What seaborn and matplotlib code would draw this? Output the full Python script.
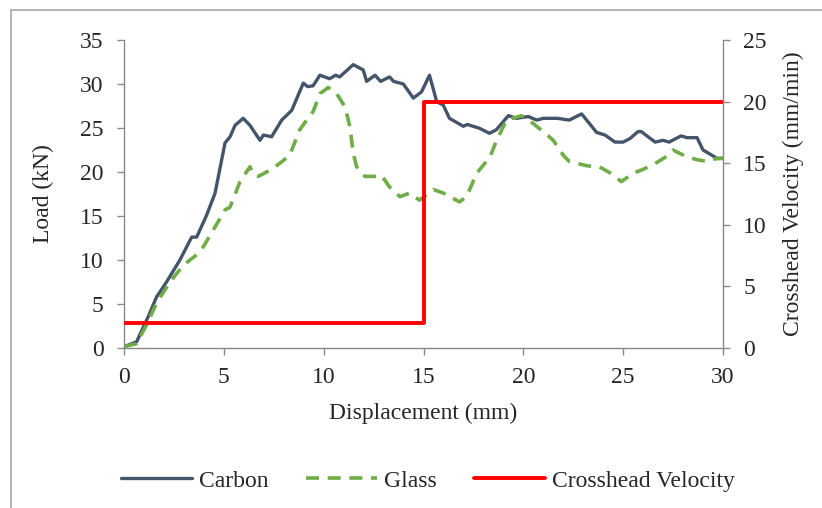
import pandas as pd
import matplotlib
matplotlib.use("Agg")
import matplotlib.pyplot as plt
from matplotlib.lines import Line2D
import seaborn as sns

# Load vs displacement readings
carbon_x = [0, 0.63, 1.22, 1.63, 2.13, 2.8, 3.39, 3.64, 4.14, 4.56, 5.06, 5.31, 5.56, 5.97, 6.31,
            6.81, 6.98, 7.39, 7.9, 8.4, 8.98, 9.2, 9.47, 9.81, 10.3, 10.6, 10.8, 11.48, 11.98, 12.15,
            12.57, 12.85, 13.3, 13.5, 13.99, 14.49, 14.9, 15.3, 15.66, 15.99, 16.3, 16.99, 17.2, 17.8,
            18.3, 18.65, 19.25, 19.66, 20.25, 20.67, 21.0, 21.7, 22.3, 22.92, 23.67, 24.09, 24.59,
            25.0, 25.34, 25.75, 25.9, 26.6, 27.0, 27.3, 27.9, 28.2, 28.7, 29.0, 29.7, 30.0]
carbon_load = [0.15, 0.7, 3.6, 5.8, 7.5, 10, 12.6, 12.6, 15.1, 17.6, 23.3, 24, 25.3, 26.1, 25.3,
               23.6, 24.2, 24.0, 25.9, 27.0, 30.1, 29.7, 29.8, 31.0, 30.6, 31.0, 30.8, 32.2, 31.6, 30.3,
               31.0, 30.3, 30.8, 30.3, 30.0, 28.4, 29.1, 31.0, 28.0, 27.6, 26.1, 25.2, 25.4, 24.97,
               24.4, 24.8, 26.4, 26.1, 26.3, 25.9, 26.1, 26.1, 25.9, 26.6, 24.5, 24.2, 23.4,
               23.4, 23.8, 24.6, 24.6, 23.4, 23.6, 23.4, 24.1, 23.9, 23.9, 22.5, 21.55, 21.55]

glass_x = [0, 0.63, 1.17, 1.63, 2.3, 2.97, 3.64, 3.97, 4.47, 5.06, 5.31, 5.81, 6.31, 6.48, 6.72,
           7.31, 7.81, 8.3, 8.8, 9.15, 9.48, 9.81, 10.23, 10.65, 11.07, 11.32, 11.48, 11.65, 12.07,
           12.5, 12.9, 13.3, 13.82, 14.3, 14.8, 15.5, 16.0, 16.8, 17.16, 17.66, 18.33, 18.66, 19.16,
           19.9, 20.5, 21.2, 21.5, 22.0, 22.3, 23.2, 23.8, 24.5, 24.9, 25.5, 26.1, 26.7, 27.2, 27.5,
           28.2, 28.7, 29.2, 29.6, 30.0]
glass_load = [0.15, 0.5, 2.8, 5.1, 7.5, 9.4, 10.6, 11.5, 13.4, 15.7, 16.0, 18.9, 20.6, 19.7, 19.5,
              20.2, 21.0, 21.9, 24.8, 25.9, 26.9, 28.9, 29.6, 28.9, 27.4, 25.1, 22.1, 20.6, 19.5,
              19.5, 19.6, 18.3, 17.2, 17.6, 16.8, 18.0, 17.6, 16.6, 17.2, 19.85, 21.7, 23.6, 25.9,
              26.4, 25.5, 24.2, 23.6, 21.9, 21.2, 20.7, 20.6, 19.7, 18.9, 19.85, 20.4, 21.1, 21.8, 22.5,
              21.7, 21.4, 21.2, 21.5, 21.55]

# Crosshead velocity (mm/min), step at 15 mm
vel_x = [0, 15, 15, 30]
vel_v = [2, 2, 20, 20]

x_ticks = [0, 5, 10, 15, 20, 25, 30]
load_ticks = [0, 5, 10, 15, 20, 25, 30, 35]
vel_ticks = [0, 5, 10, 15, 20, 25]

carbon_df = pd.DataFrame({"x": carbon_x, "load": carbon_load})
glass_df = pd.DataFrame({"x": glass_x, "load": glass_load})
vel_df = pd.DataFrame({"x": vel_x, "v": vel_v})

sns.set_style("white")
plt.rcParams["font.family"] = ["Liberation Serif", "DejaVu Serif"]
plt.rcParams["font.size"] = 17

fig = plt.figure(figsize=(8.22, 5.08), dpi=100)
ax = fig.add_axes([124 / 822, 160 / 508, 599 / 822, 308 / 508])
ax2 = ax.twinx()

spine_col = "#898989"

sns.lineplot(data=carbon_df, x="x", y="load", ax=ax, color="#44546A", lw=2.4,
             estimator=None, sort=False, label="Carbon", legend=False)
sns.lineplot(data=glass_df, x="x", y="load", ax=ax, color="#70AD47", lw=2.6,
             estimator=None, sort=False, label="Glass", legend=False, dashes=False,
             linestyle=(0, (3.6, 2.4)))
sns.lineplot(data=vel_df, x="x", y="v", ax=ax2, color="#FF0000", lw=2.8,
             estimator=None, sort=False, label="Crosshead Velocity", legend=False)

ax.set_xlim(0, 30)
ax.set_ylim(0, 35)
ax2.set_ylim(0, 25)
ax.set_xticks(x_ticks)
ax.set_yticks(load_ticks)
ax2.set_yticks(vel_ticks)

ax.set_xlabel("Displacement (mm)", labelpad=10)
ax.set_ylabel("Load (kN)", labelpad=19)
ax2.set_ylabel("Crosshead Velocity (mm/min)", labelpad=11.5)

for a in (ax, ax2):
    a.spines["top"].set_visible(False)
    for s in ("left", "right", "bottom"):
        a.spines[s].set_color(spine_col)
        a.spines[s].set_linewidth(1.0)
    a.tick_params(axis="both", direction="out", length=5, width=1.0, color=spine_col,
                  labelsize=17)
ax.spines["right"].set_visible(False)
ax2.spines["left"].set_visible(False)
ax2.spines["bottom"].set_visible(False)
ax.tick_params(axis="y", left=True, pad=9.6)
ax.tick_params(axis="x", bottom=True, pad=9)
ax2.tick_params(axis="y", right=True, pad=9.6)

# Combined legend below the plot
handles = ax.get_lines()[:2] + ax2.get_lines()[:1]
labels = ["Carbon", "Glass", "Crosshead Velocity"]
fig.legend(handles, labels, loc="center", bbox_to_anchor=(428 / 822, 1 - 481 / 508), ncol=3,
           frameon=False, fontsize=17, handlelength=3.0, handletextpad=0.3, columnspacing=1.6)

# Chart area frame (cut by the image edge on the right and bottom)
fig.add_artist(Line2D([11 / 822, 11 / 822], [0, 1 - 10 / 508], transform=fig.transFigure,
                      color="#A6A6A6", lw=1.2))
fig.add_artist(Line2D([11 / 822, 1], [1 - 10 / 508, 1 - 10 / 508], transform=fig.transFigure,
                      color="#A6A6A6", lw=1.2))

fig.savefig("out.png", dpi=100)
plt.close(fig)
